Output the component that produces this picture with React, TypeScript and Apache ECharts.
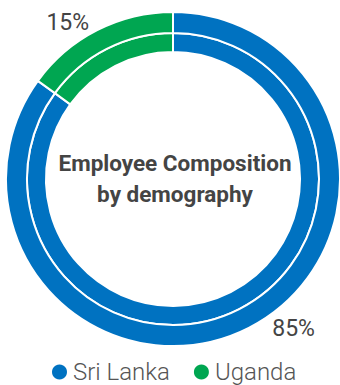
import React, { useEffect, useRef } from "react";
import * as echarts from "echarts";

const categories = ["Sri Lanka", "Uganda"];
const values = [85, 15];
const colors = ["#0072C1", "#00A651"];
const titleLines = ["Employee Composition", "by demography"];

export default function App() {
  const ref = useRef<HTMLDivElement>(null);
  useEffect(() => {
    if (!ref.current) return;
    const chart = echarts.init(ref.current, null, { renderer: "svg" });
    const labelLines = [
      { length: 1, length2: 19 },
      { length: 9, length2: 0 },
    ];
    const outerData = categories.map((name, i) => ({
      name,
      value: values[i],
      labelLine: { show: false, ...labelLines[i] },
    }));
    const innerData = categories.map((name, i) => ({ name, value: values[i] }));
    chart.setOption({
      animation: false,
      color: colors,
      title: {
        text: titleLines.join("\n"),
        left: 170,
        textAlign: "center",
        top: 142,
        textStyle: {
          fontFamily: "Roboto",
          fontWeight: "bold",
          fontSize: 22.5,
          lineHeight: 31,
          color: "#444444",
        },
      },
      legend: {
        data: categories,
        top: 355,
        left: 45,
        icon: "circle",
        itemWidth: 17,
        itemHeight: 17,
        itemGap: 22,
        textStyle: {
          fontFamily: "Roboto",
          fontWeight: 300,
          fontSize: 24,
          color: "#555555",
        },
      },
      series: [
        {
          type: "pie",
          center: [173, 179],
          radius: [127, 146],
          startAngle: 90,
          clockwise: true,
          label: { show: false },
          labelLine: { show: false },
          itemStyle: { borderColor: "#ffffff", borderWidth: 2 },
          emphasis: { disabled: true },
          data: innerData,
        },
        {
          type: "pie",
          center: [173, 179],
          radius: [146, 167],
          startAngle: 90,
          clockwise: true,
          label: {
            show: true,
            position: "outside",
            formatter: "{d}%",
            fontFamily: "Roboto",
            fontSize: 23,
            color: "#444444",
            distanceToLabelLine: 4,
          },
          labelLine: { show: false },
          itemStyle: { borderColor: "#ffffff", borderWidth: 2 },
          emphasis: { disabled: true },
          data: outerData,
        },
      ],
    });
    return () => chart.dispose();
  }, []);
  return (
    <div
      ref={ref}
      style={{ position: "fixed", left: 0, top: 0, width: 340, height: 385, background: "#fff" }}
    />
  );
}
